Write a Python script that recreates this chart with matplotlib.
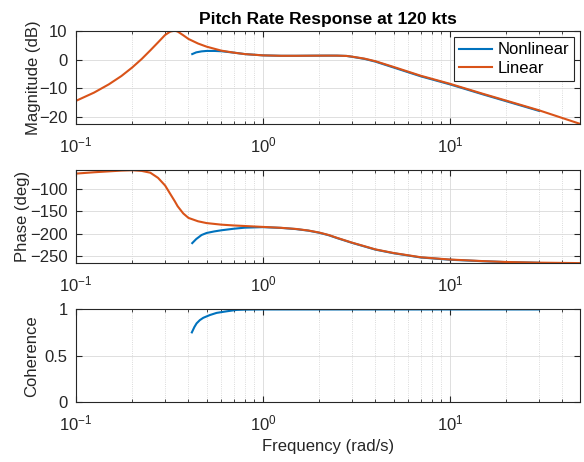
import matplotlib
matplotlib.use("Agg")
import matplotlib.pyplot as plt
from matplotlib.ticker import LogLocator, NullFormatter

# linear model response
w_lin = [0.1, 0.125, 0.15, 0.175, 0.2, 0.225, 0.25, 0.275, 0.3, 0.32, 0.338, 0.35,
         0.375, 0.4, 0.45, 0.5, 0.6, 0.7, 0.8, 1.0, 1.25, 1.5, 1.75, 2.0, 2.25, 2.5, 2.8, 3.0,
         3.5, 4.0, 5.0, 7.0, 10, 15, 20, 30, 50]
mag_lin = [-14.5, -11.6, -8.7, -5.8, -2.8, 0.2, 3.2, 6.0, 8.6, 9.8, 10.1, 9.8,
           8.5, 7.2, 5.6, 4.5, 3.1, 2.4, 1.9, 1.45, 1.3, 1.3, 1.33, 1.35, 1.36, 1.35, 1.25, 1.0,
           0.3, -0.6, -2.6, -5.7, -8.5, -12.0, -14.4, -17.8, -22.6]
ph_lin = [-66.5, -63.5, -61.5, -59.8, -59.0, -60.5, -64.5, -76, -93, -112, -128, -139,
          -155, -165, -172.5, -176.5, -180, -181.8, -183, -185, -187, -189.5, -193, -197.5,
          -203, -209.5, -216, -220, -228, -235, -243, -252.5, -257.5, -261, -263, -264.5, -265.5]

# nonlinear sim identification
w_nl = [0.419, 0.44, 0.47, 0.5, 0.55, 0.6, 0.7, 0.8, 1.0, 1.25, 1.5, 1.75, 2.0, 2.25, 2.5, 2.8,
        3.0, 3.5, 4.0, 5.0, 7.0, 10, 15, 20, 30]
mag_nl = [1.9, 2.5, 2.85, 3.0, 3.0, 2.9, 2.4, 1.9, 1.45, 1.3, 1.3, 1.33, 1.35, 1.36, 1.35, 1.25,
          0.95, 0.2, -0.75, -2.8, -5.9, -8.7, -12.2, -14.6, -18.0]
ph_nl = [-221, -212, -203, -198.5, -195, -192.5, -189, -186.7, -185.5, -187.2, -189.8, -193.3,
         -198, -203.5, -210, -216.5, -220.5, -228.5, -235.5, -243.5, -253, -258, -261.3, -263.2, -264.7]

w_coh = [0.417, 0.43, 0.442, 0.46, 0.48, 0.5, 0.521, 0.566, 0.64, 0.723, 0.8, 1.0,
         2, 5, 10, 20, 30]
coh = [0.753, 0.81, 0.85, 0.885, 0.91, 0.925, 0.94, 0.963, 0.98, 0.995, 0.998, 1.0,
       1.0, 1.0, 1.0, 1.0, 1.0]

blue = '#0072BD'
orange = '#D95319'
axcol = '#262626'

plt.rcParams['font.family'] = ['Liberation Sans', 'DejaVu Sans']
plt.rcParams['font.size'] = 12

fig = plt.figure(figsize=(5.84, 4.62), dpi=100)
ax1 = fig.add_axes([0.130, 0.7316, 0.864, 0.202])
ax2 = fig.add_axes([0.130, 0.430, 0.864, 0.202])
ax3 = fig.add_axes([0.130, 0.1292, 0.864, 0.201])

def style(ax):
    ax.set_xscale('log')
    ax.set_xlim(0.1, 50)
    ax.xaxis.set_major_locator(LogLocator(base=10))
    ax.xaxis.set_minor_locator(LogLocator(base=10, subs=range(2, 10)))
    ax.xaxis.set_minor_formatter(NullFormatter())
    ax.grid(True, which='major', color='#d9d9d9', lw=0.6, ls='-')
    ax.grid(True, which='minor', color='#cfcfcf', lw=0.6, ls=':')
    ax.set_axisbelow(True)
    ax.tick_params(which='both', direction='in', top=True, right=True,
                   colors=axcol, labelsize=12)
    ax.tick_params(axis='x', which='major', length=4, pad=8)
    ax.tick_params(axis='y', which='major', length=4, pad=6)
    ax.tick_params(which='minor', length=2)
    for s in ax.spines.values():
        s.set_color(axcol)
        s.set_linewidth(0.8)

ax1.plot(w_nl, mag_nl, color=blue, lw=1.5, label='Nonlinear')
ax1.plot(w_lin, mag_lin, color=orange, lw=1.5, label='Linear')
style(ax1)
ax1.set_ylim(-22.6, 10.1)
ax1.set_yticks([-20, -10, 0, 10])
ax1.set_ylabel('Magnitude (dB)', color=axcol, labelpad=-1)
ax1.set_title('Pitch Rate Response at 120 kts', fontsize=12.5, fontweight='bold', color='black', pad=5)
leg = ax1.legend(loc='upper right', fancybox=False, edgecolor=axcol, framealpha=1,
                 borderpad=0.3, labelspacing=0.2, handletextpad=0.3, borderaxespad=0.4)
leg.get_frame().set_linewidth(0.8)

ax2.plot(w_nl, ph_nl, color=blue, lw=1.5)
ax2.plot(w_lin, ph_lin, color=orange, lw=1.5)
style(ax2)
ax2.set_ylim(-266, -58.5)
ax2.set_yticks([-250, -200, -150, -100])
ax2.set_ylabel('Phase (deg)', color=axcol, labelpad=0)

ax3.plot(w_coh, coh, color=blue, lw=1.5)
style(ax3)
ax3.set_ylim(0, 1)
ax3.set_yticks([0, 0.5, 1])
ax3.set_yticklabels(['0', '0.5', '1'])
ax3.set_ylabel('Coherence', color=axcol)
ax3.set_xlabel('Frequency (rad/s)', color=axcol)

fig.savefig('out.png', dpi=100)
